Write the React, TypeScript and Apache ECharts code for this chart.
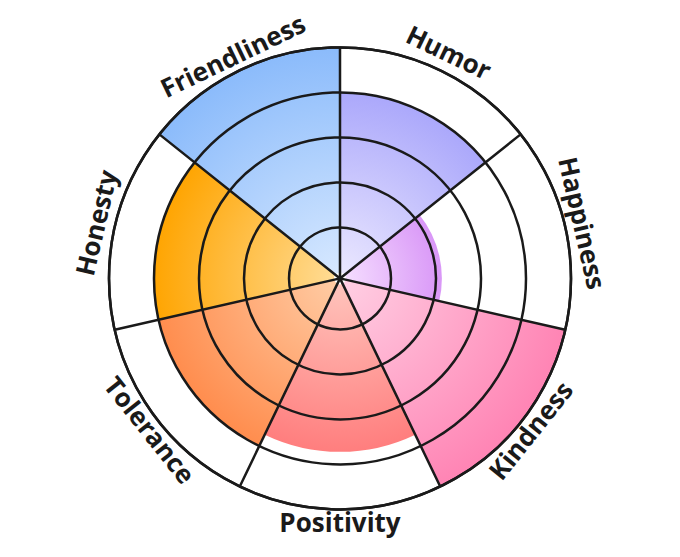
import React, { useEffect, useRef } from "react";
import * as echarts from "echarts";

// ---- data ----
const categories = ["Friendliness", "Humor", "Happiness", "Kindness", "Positivity", "Tolerance", "Honesty"];
const values = [5, 4, 2.13, 5, 3.72, 4, 4];
const innerColors = ["#D8E9FF", "#ECE9FF", "#F6E0FF", "#FFD0E4", "#FFC6BE", "#FFCDA6", "#FFDD98"];
const outerColors = ["#8BBBFB", "#ABA8FB", "#D997F7", "#FF84B4", "#FF7E7E", "#FF8D4E", "#FFA502"];
const ringTicks = [0, 1, 2, 3, 4, 5];

// ---- layout ----
const W = 680;
const H = 557;
const CX = 340;
const CY = 278.4;
const R = 231;
const HOLE = 6;
const FONT_SIZE = 26;
const LINE = "#1a1a1a";
const LW = 2.5;

export default function App() {
  const ref = useRef<HTMLDivElement>(null);

  useEffect(() => {
    document.body.style.margin = "0";
    if (!ref.current) return;
    const chart = echarts.init(ref.current, null, { renderer: "svg" });

    const rMax = ringTicks[ringTicks.length - 1];
    const ringStep = (R - HOLE) / (rMax - ringTicks[0]);
    const rMin = ringTicks[0] - HOLE / ringStep;
    const toPx = (v: number) => (R * (v - rMin)) / (rMax - rMin);

    const n = categories.length;
    const step = 360 / n;
    const startAngle = 90 + step;

    const canvas = document.createElement("canvas");
    const ctx = canvas.getContext("2d")!;
    ctx.font = `bold ${FONT_SIZE}px "Open Sans"`;

    const barData = values.map((v, i) => ({
      value: v,
      itemStyle: {
        color: {
          type: "radial",
          x: CX,
          y: CY,
          r: toPx(v),
          global: true,
          colorStops: [
            { offset: 0, color: innerColors[i] },
            { offset: 1, color: outerColors[i] },
          ],
        },
      },
    }));

    const labels = categories.map((name, i) => {
      const theta = startAngle - (i + 0.5) * step;
      const rad = (theta * Math.PI) / 180;
      const upper = Math.sin(rad) > 0;
      const w = ctx.measureText(name).width;
      const baseR = upper ? 253 : 246.5;
      const sag = (w * w) / (8 * baseR);
      const r = baseR - sag * 0.45;
      const rotDeg = upper ? theta - 90 : theta + 90;
      return {
        type: "text",
        x: CX + r * Math.cos(rad),
        y: CY - r * Math.sin(rad),
        rotation: (rotDeg * Math.PI) / 180,
        z: 100,
        style: {
          text: name,
          fill: LINE,
          fontFamily: "Open Sans",
          fontWeight: "bold",
          fontSize: FONT_SIZE,
          align: "center",
          verticalAlign: "middle",
        },
      };
    });

    chart.setOption({
      animation: false,
      backgroundColor: "#ffffff",
      polar: [
        { center: [CX, CY], radius: R },
        { center: [CX, CY], radius: [HOLE, R] },
      ],
      angleAxis: [
        {
          polarIndex: 0,
          type: "category",
          data: categories,
          startAngle,
          clockwise: true,
          z: 10,
          axisLine: { show: true, lineStyle: { color: LINE, width: LW } },
          axisTick: { show: false },
          axisLabel: { show: false },
          splitLine: { show: true, lineStyle: { color: LINE, width: LW } },
        },
        {
          polarIndex: 1,
          type: "value",
          min: 0,
          max: 360,
          axisLine: { show: false },
          axisTick: { show: false },
          axisLabel: { show: false },
          splitLine: { show: false },
        },
      ],
      radiusAxis: [
        {
          polarIndex: 0,
          type: "value",
          min: rMin,
          max: rMax,
          axisLine: { show: false },
          axisTick: { show: false },
          axisLabel: { show: false },
          splitLine: { show: false },
        },
        {
          polarIndex: 1,
          type: "value",
          min: ringTicks[0],
          max: rMax,
          interval: 1,
          z: 10,
          axisLine: { show: false },
          axisTick: { show: false },
          axisLabel: { show: false },
          splitLine: {
            show: true,
            lineStyle: {
              width: LW,
              color: ringTicks.map((t, k) => (k === 0 ? "rgba(0,0,0,0)" : LINE)),
            },
          },
        },
      ],
      series: [
        {
          type: "bar",
          coordinateSystem: "polar",
          polarIndex: 0,
          barCategoryGap: "0%",
          z: 2,
          data: barData,
        },
      ],
      graphic: labels,
    });

    return () => chart.dispose();
  }, []);

  return <div ref={ref} style={{ width: W, height: H }} />;
}
